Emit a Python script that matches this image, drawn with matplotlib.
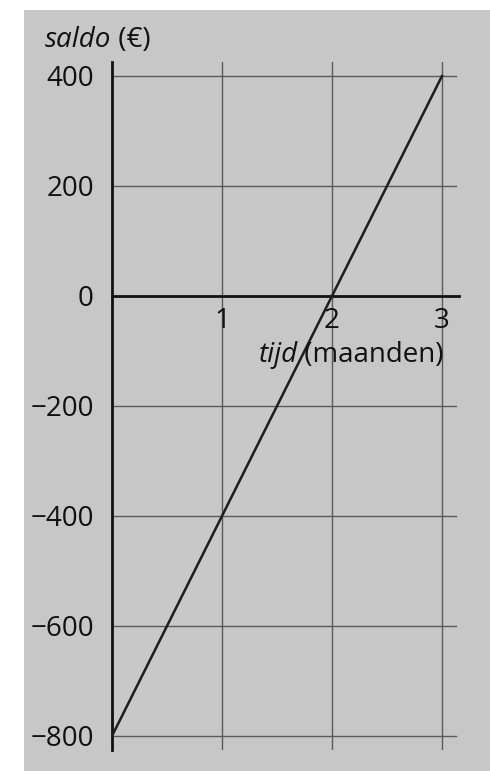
import matplotlib
matplotlib.use("Agg")
import matplotlib.pyplot as plt
from matplotlib.patches import Rectangle

# Data
tijd = [0, 3]
saldo = [-800, 400]
x_ticks = [1, 2, 3]
x_tick_labels = ["1", "2", "3"]
y_ticks = [-800, -600, -400, -200, 0, 200, 400]
y_tick_labels = ["−800", "−600", "−400", "−200", "0", "200", "400"]

plt.rcParams['font.family'] = ['Open Sans', 'DejaVu Sans']
plt.rcParams['font.weight'] = 'medium'
FS = 20
TXT = '#111111'

W, H = 490, 771
fig = plt.figure(figsize=(W / 100, H / 100), dpi=100, facecolor='white')

# paper background (photo)
fig.patches.append(Rectangle((24 / W, 0), 1 - 24 / W, 1 - 10 / H,
                             transform=fig.transFigure, facecolor='#c7c7c7',
                             edgecolor='none', zorder=-10))

# axes geometry (pixels)
x0px, xscale = 112, 110.0
y0px, yscale = 296, 0.55
xlim = (0, 3.15)
ylim = (-825, 425)
left = (x0px + xscale * xlim[0]) / W
right = (x0px + xscale * xlim[1]) / W
top = (y0px - yscale * ylim[1])
bottom = (y0px - yscale * ylim[0])
ax = fig.add_axes([left, 1 - bottom / H, right - left, (bottom - top) / H])
ax.set_facecolor('none')
ax.set_xlim(*xlim)
ax.set_ylim(*ylim)

# grid
for xv in x_ticks:
    ax.axvline(xv, color='#5a5a5a', lw=1.0, zorder=1)
for yv in y_ticks:
    if yv != 0:
        ax.plot([0, 3.13], [yv, yv], color='#5a5a5a', lw=1.0, zorder=1)

# axes lines
for s in ['top', 'right']:
    ax.spines[s].set_visible(False)
ax.spines['left'].set_color('#111111')
ax.spines['left'].set_linewidth(2.0)
ax.spines['bottom'].set_position(('data', 0))
ax.spines['bottom'].set_color('#111111')
ax.spines['bottom'].set_linewidth(2.0)

ax.set_yticks(y_ticks)
ax.set_yticklabels(y_tick_labels)
ax.set_xticks(x_ticks)
ax.set_xticklabels(x_tick_labels)
ax.tick_params(axis='both', length=0, labelsize=FS, colors=TXT)
ax.tick_params(axis='y', pad=13)
ax.tick_params(axis='x', pad=8)

# line
ax.plot(tijd, saldo, color='#1e1e1e', lw=1.8, zorder=3)

# x label
t1 = ax.text(1.33, -108, "tijd", style='italic', fontsize=FS, color=TXT,
             va='center', ha='left')
ax.annotate(" (maanden)", xy=(1, 0), xycoords=t1, va='bottom', ha='left',
            fontsize=FS, color=TXT)

# y label
t2 = fig.text(45 / W, 1 - 40 / H, "saldo", style='italic', fontsize=FS,
              color=TXT, va='center', ha='left')
fig.add_artist(matplotlib.text.Annotation(" (€)", xy=(1, 0), xycoords=t2,
                                          va='bottom', ha='left', fontsize=FS,
                                          color=TXT))

fig.savefig("out.png", dpi=100, facecolor=fig.get_facecolor())
